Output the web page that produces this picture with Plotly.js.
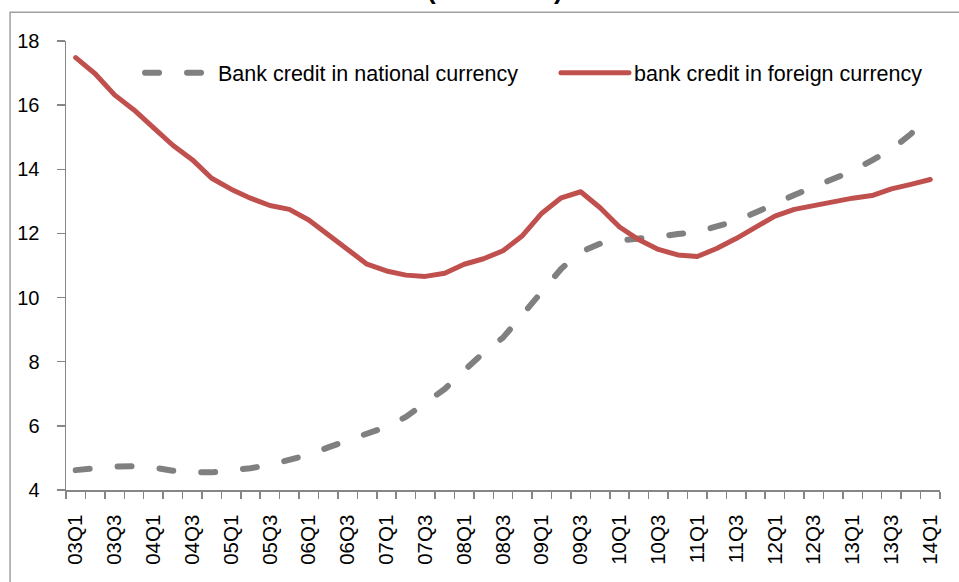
<!DOCTYPE html>
<html>
<head>
<meta charset="utf-8">
<script src="https://cdn.plot.ly/plotly-3.0.1.min.js"></script>
<style>
  html, body { margin: 0; padding: 0; background: #ffffff; }
  #chart { width: 959px; height: 582px; }
  #chart path.js-line { stroke-linecap: round !important; stroke-linejoin: round !important; }
</style>
</head>
<body>
<div id="chart"></div>
<script>
const quarters = ["03Q1","03Q2","03Q3","03Q4","04Q1","04Q2","04Q3","04Q4","05Q1","05Q2","05Q3","05Q4",
  "06Q1","06Q2","06Q3","06Q4","07Q1","07Q2","07Q3","07Q4","08Q1","08Q2","08Q3","08Q4",
  "09Q1","09Q2","09Q3","09Q4","10Q1","10Q2","10Q3","10Q4","11Q1","11Q2","11Q3","11Q4",
  "12Q1","12Q2","12Q3","12Q4","13Q1","13Q2","13Q3","13Q4","14Q1"];

const nationalCurrency = [4.62,4.68,4.73,4.74,4.7,4.6,4.55,4.55,4.6,4.68,4.78,4.92,5.1,5.33,5.54,5.74,5.97,6.28,
  6.72,7.15,7.72,8.28,8.75,9.45,10.2,10.9,11.42,11.68,11.78,11.82,11.9,11.98,12.05,12.22,12.39,12.65,12.95,13.2,
  13.45,13.7,13.95,14.28,14.62,15.1,15.72];

const foreignCurrency = [17.48,16.98,16.32,15.85,15.3,14.75,14.3,13.72,13.38,13.1,12.87,12.75,12.42,11.97,11.5,
  11.04,10.83,10.7,10.66,10.76,11.04,11.21,11.46,11.93,12.63,13.11,13.3,12.8,12.2,11.8,11.5,11.33,11.28,11.53,
  11.84,12.17,12.54,12.75,12.88,12.98,13.1,13.18,13.39,13.53,13.68];

const seriesNames = ["Bank credit in national currency", "bank credit in foreign currency"];
const yTicks = [4, 6, 8, 10, 12, 14, 16, 18];
const titleText = "(% of GDP)";

const FONT = "'Liberation Sans', Arial, sans-serif";

const idx = quarters.map((q, i) => i);
const labelIdx = idx.filter(i => i % 2 === 0);

const traces = [
  {
    x: idx, y: nationalCurrency, name: seriesNames[0], type: "scatter", mode: "lines",
    line: { color: "#808080", width: 6, dash: "14px,28px" }, legend: "legend"
  },
  {
    x: idx, y: foreignCurrency, name: seriesNames[1], type: "scatter", mode: "lines",
    line: { color: "#c0504d", width: 5 }, legend: "legend2"
  }
];

const legendCommon = {
  orientation: "h", y: 0.9294, xanchor: "left", yanchor: "middle",
  bgcolor: "rgba(0,0,0,0)", font: { family: FONT, size: 21.5, color: "#000" },
  itemwidth: 68
};

const layout = {
  width: 959, height: 582,
  margin: { l: 66, r: 19, t: 41, b: 92 },
  paper_bgcolor: "#ffffff", plot_bgcolor: "#ffffff",
  font: { family: FONT, size: 20, color: "#000000" },
  showlegend: true,
  legend: Object.assign({}, legendCommon, { x: 0.0847 }),
  legend2: Object.assign({}, legendCommon, { x: 0.5606 }),
  xaxis: {
    range: [-0.5, quarters.length - 0.5],
    tickmode: "array", tickvals: labelIdx, ticktext: labelIdx.map(i => quarters[i]),
    tickangle: -90, ticks: "", showgrid: false, zeroline: false,
    showline: true, linecolor: "#868686", linewidth: 1.5,
    tickfont: { family: FONT, size: 20.5, color: "#000" },
    ticklabelstandoff: 15,
    minor: { tick0: -0.5, dtick: 1, ticks: "outside", ticklen: 7, tickcolor: "#868686", tickwidth: 1.5, showgrid: false }
  },
  yaxis: {
    range: [4, 18], tickmode: "array", tickvals: yTicks, ticktext: yTicks.map(String),
    ticks: "outside", ticklen: 8, tickcolor: "#868686", tickwidth: 1.5,
    showgrid: false, zeroline: false, showline: true, linecolor: "#868686", linewidth: 1.5,
    tickfont: { family: FONT, size: 20, color: "#000" }, ticklabelstandoff: 13
  },
  annotations: [
    { text: "<b>" + titleText + "</b>", xref: "paper", yref: "paper", x: 0.4908, y: 1.113, xanchor: "center", yanchor: "middle",
      showarrow: false, font: { family: FONT, size: 26, color: "#000" } }
  ],
  shapes: [
    { type: "rect", xref: "paper", yref: "paper", x0: -0.064, x1: 1.05, y0: -0.25, y1: 1.0639,
      line: { color: "#a0a0a0", width: 1.5 }, fillcolor: "rgba(0,0,0,0)", layer: "below" }
  ]
};

Plotly.newPlot("chart", traces, layout, { displayModeBar: false, staticPlot: true });
</script>
</body>
</html>
